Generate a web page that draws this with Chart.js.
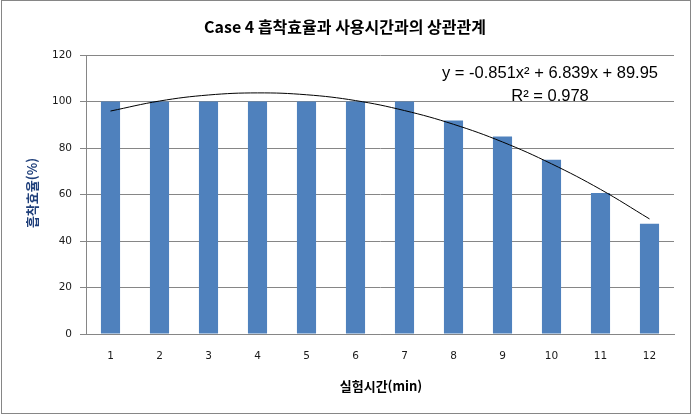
<!DOCTYPE html>
<html lang="ko">
<head>
  <meta charset="UTF-8">
  <title>Case 4 흡착효율과 사용시간과의 상관관계</title>
  <script src="https://cdn.jsdelivr.net/npm/chart.js"></script>
  <style>
    body {
      margin: 0;
      padding: 0;
      background-color: #ffffff;
    }
    #box {
      width: 692px;
      height: 415px;
      position: relative;
    }
  </style>
</head>
<body>
  <div id="box">
    <canvas id="grafico" width="692" height="415"></canvas>
  </div>

  <script>
    // dados
    const tempos = ['1', '2', '3', '4', '5', '6', '7', '8', '9', '10', '11', '12'];
    const eficiencia = [100, 100, 100, 100, 100, 100, 100, 91.8, 84.9, 75.0, 60.6, 47.4];
    const tendencia = [95.9, 100.2, 102.8, 103.7, 102.9, 100.4, 96.1, 90.2, 82.6, 73.2, 62.2, 49.5];
    const ticksY = [0, 20, 40, 60, 80, 100, 120];

    const tituloGrafico = 'Case 4 흡착효율과 사용시간과의 상관관계';
    const tituloX = '실험시간(min)';
    const tituloY = '흡착효율(%)';
    const equacao = 'y = -0.851x\u00B2 + 6.839x + 89.95';
    const r2 = 'R\u00B2 = 0.978';

    const cinza = '#868686';

    // textos e moldura desenhados por cima
    const textos = {
      id: 'textos',
      afterDraw(chart) {
        const ctx = chart.ctx;
        ctx.save();

        ctx.strokeStyle = cinza;
        ctx.lineWidth = 1;
        ctx.strokeRect(1.5, 0.5, 689, 413);

        ctx.fillStyle = '#000000';
        ctx.textAlign = 'center';
        ctx.textBaseline = 'middle';
        ctx.font = 'bold 16px "Noto Sans CJK KR"';
        ctx.fillText(tituloGrafico, 345, 27);

        ctx.font = 'bold 13px "Noto Sans CJK KR"';
        ctx.fillText(tituloX, 381, 386);

        ctx.save();
        ctx.translate(32, 193);
        ctx.rotate(-Math.PI / 2);
        ctx.fillStyle = '#1F3F7A';
        ctx.fillText(tituloY, 0, 0);
        ctx.restore();

        ctx.font = '16.5px "Liberation Sans"';
        ctx.fillText(equacao, 550, 73);
        ctx.fillText(r2, 550, 96);

        ctx.restore();
      }
    };

    const ctx = document.getElementById('grafico').getContext('2d');
    const chart = new Chart(ctx, {
      type: 'bar',
      data: {
        labels: tempos,
        datasets: [{
          type: 'line',
          label: 'Tendência',
          data: tendencia,
          borderColor: '#000000',
          borderWidth: 1,
          pointRadius: 0,
          tension: 0.4,
          fill: false,
          order: 0
        }, {
          label: '흡착효율',
          data: eficiencia,
          backgroundColor: '#4F81BD',
          barPercentage: 0.39,
          categoryPercentage: 1.0,
          order: 1
        }]
      },
      options: {
        responsive: false,
        animation: false,
        layout: {
          padding: { left: 0, top: 55, right: 18, bottom: 0 }
        },
        plugins: {
          legend: { display: false },
          tooltip: { enabled: false },
          title: { display: false }
        },
        scales: {
          x: {
            grid: { display: false, drawTicks: false },
            border: { display: true, color: cinza, width: 1 },
            ticks: {
              color: '#1a1a1a',
              padding: 16,
              font: { family: 'DejaVu Sans', size: 10.5 }
            },
            afterFit(scale) { scale.height = 81; }
          },
          y: {
            min: 0,
            max: 120,
            afterBuildTicks(scale) {
              scale.ticks = ticksY.map(v => ({ value: v }));
            },
            grid: { color: cinza, lineWidth: 1, tickLength: 6, drawTicks: true },
            border: { display: true, color: cinza, width: 1 },
            ticks: {
              color: '#1a1a1a',
              padding: 8,
              font: { family: 'DejaVu Sans', size: 10.5 }
            },
            afterFit(scale) { scale.width = 86; }
          }
        }
      },
      plugins: [textos]
    });
  </script>
</body>
</html>
